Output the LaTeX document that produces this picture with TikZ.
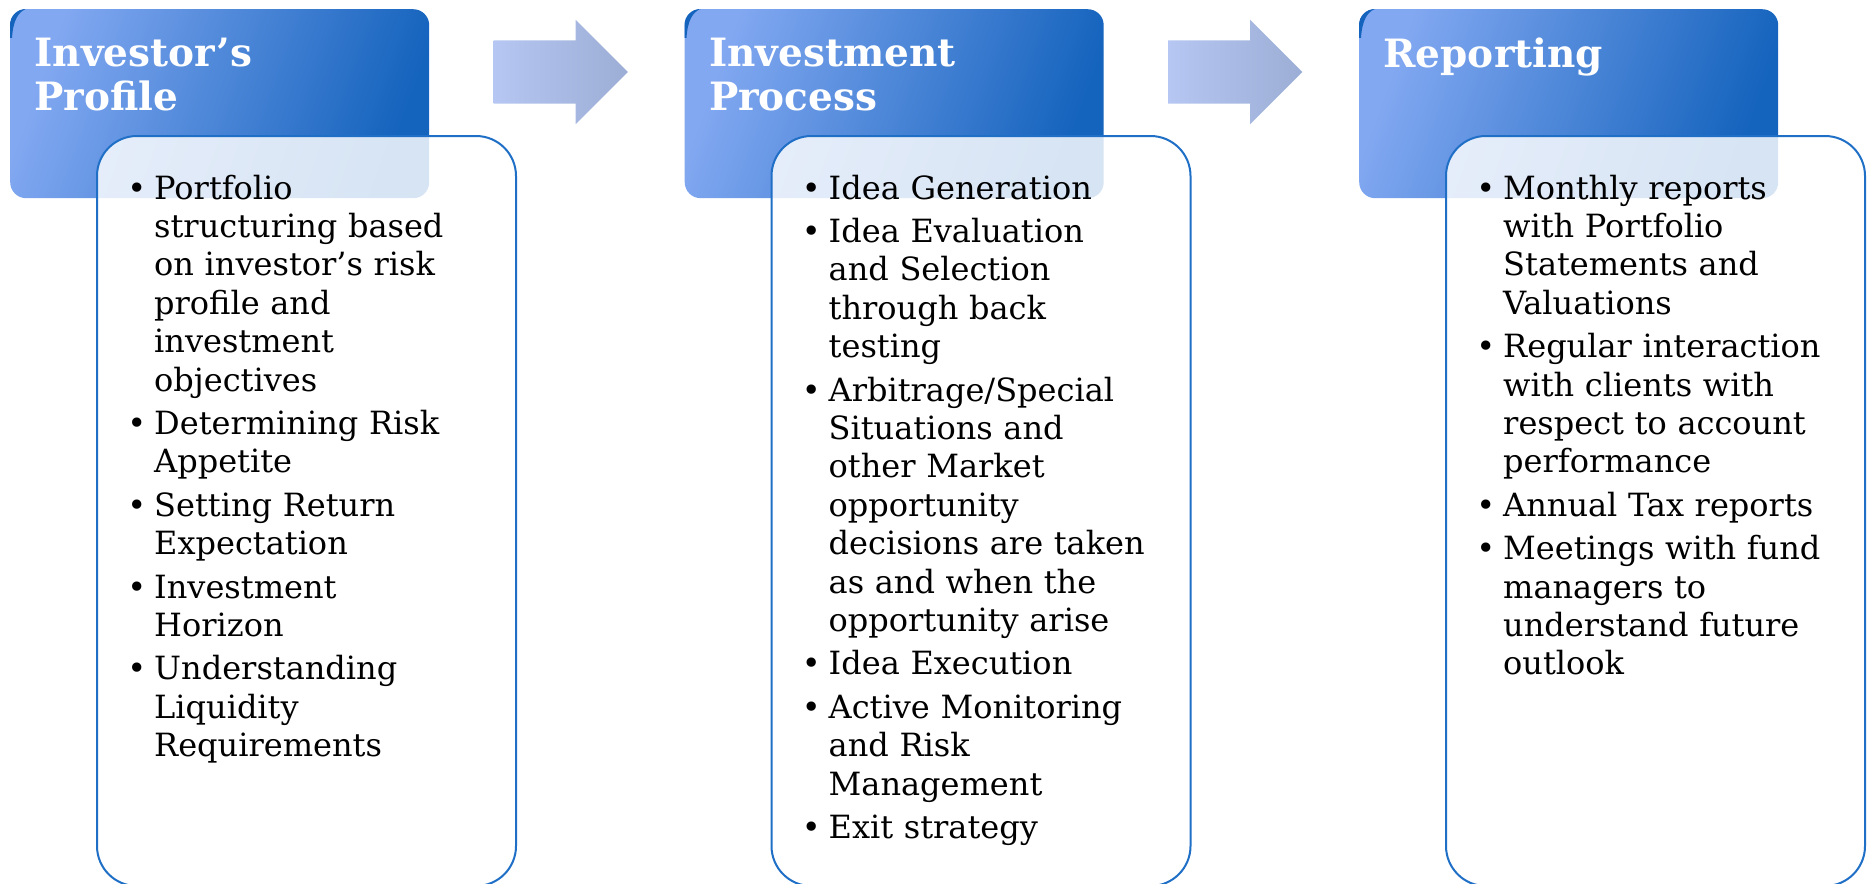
\documentclass[tikz,border=0pt]{standalone}
\usepackage{fontspec}
\setmainfont{DejaVu Serif}
\usepackage{enumitem}
\usetikzlibrary{positioning,shapes.arrows}

\definecolor{hdrlight}{HTML}{82A8F1}
\definecolor{hdrdark}{HTML}{1463BD}
\definecolor{boxline}{HTML}{1F6FC6}
\definecolor{flowlight}{HTML}{B5C7F2}
\definecolor{flowdark}{HTML}{9CAED5}

\newcommand{\titlefont}{\fontsize{39pt}{44pt}\selectfont\bfseries}
\newcommand{\itemfont}{\fontsize{32pt}{38.4pt}\selectfont}

% bullet list used inside the panels
\newlist{points}{itemize}{1}
\setlist[points]{label=\strut\textbullet, leftmargin=38pt, labelsep=8pt,
  itemsep=5pt, parsep=0pt, topsep=0pt, partopsep=0pt}

\begin{document}
\begin{tikzpicture}[
    x=1pt, y=-1pt,
    header/.style={anchor=north west, rounded corners=16pt, minimum width=419pt, minimum height=189pt,
      inner sep=0pt, top color=hdrlight, bottom color=hdrdark, shading angle=70},
    panel/.style={draw=boxline, line width=2pt, fill=white, fill opacity=0.83, rounded corners=40pt,
      minimum width=419pt, minimum height=750pt, inner sep=0pt},
    title/.style={inner sep=0pt, align=left, text=white, font=\titlefont},
    itemtext/.style={inner sep=0pt, text width=400pt, align=left, font=\itemfont},
    flow/.style={single arrow, single arrow head extend=20.7pt, single arrow tip angle=90,
      minimum height=134.4pt, inner sep=31.3pt, anchor=tail, left color=flowlight, right color=flowdark}
  ]
    \useasboundingbox (0,0) rectangle (1867,883);
    \clip (0,0) rectangle (1867,883);

    % headers
    \node[header] (hdrI) at (10,9) {};
    \node[header] (hdrII) at (684.5,9) {};
    \node[header] (hdrIII) at (1359,9) {};

    % dark rim on the top left corner of each header
    \foreach \h in {hdrI,hdrII,hdrIII}{
      \begin{scope}[shift={(\h.north west)}]
        \fill[hdrdark] (0,29) -- (0,16) .. controls (0,7) and (7,0) .. (16,0)
          .. controls (8,3) and (3,12) .. (2,29) -- cycle;
      \end{scope}
    }

    \node[title, below right=28.6pt and 24.3pt of hdrI.north west] (ttlI) {Investor’s\\Profile};
    \node[title, below right=28.6pt and 24.3pt of hdrII.north west] (ttlII) {Investment\\Process};
    \node[title, below right=28.6pt and 24.3pt of hdrIII.north west] (ttlIII) {Reporting};

    % arrows between the steps
    \node[flow] (flowI) at (493.3,72) {};
    \node[flow] (flowII) at (1167.8,72) {};

    % panels
    \node[panel, below right=126pt and 86pt of hdrI.north west] (bodyI) {};
    \node[panel, below right=126pt and 86pt of hdrII.north west] (bodyII) {};
    \node[panel, below right=126pt and 86pt of hdrIII.north west] (bodyIII) {};

    \node[itemtext, below right=25.5pt and 20pt of bodyI.north west] (listI) {%
      \begin{points}
        \item Portfolio\\structuring based\\on investor’s risk\\profile and\\investment\\objectives
        \item Determining Risk\\Appetite
        \item Setting Return\\Expectation
        \item Investment\\Horizon
        \item Understanding\\Liquidity\\Requirements
      \end{points}};
    \node[itemtext, below right=25.5pt and 20pt of bodyII.north west] (listII) {%
      \begin{points}
        \item Idea Generation
        \item Idea Evaluation\\and Selection\\through back\\testing
        \item Arbitrage/Special\\Situations and\\other Market\\opportunity\\decisions are taken\\as and when the\\opportunity arise
        \item Idea Execution
        \item Active Monitoring\\and Risk\\Management
        \item Exit strategy
      \end{points}};
    \node[itemtext, below right=25.5pt and 20pt of bodyIII.north west] (listIII) {%
      \begin{points}
        \item Monthly reports\\with Portfolio\\Statements and\\Valuations
        \item Regular interaction\\with clients with\\respect to account\\performance
        \item Annual Tax reports
        \item Meetings with fund\\managers to\\understand future\\outlook
      \end{points}};
  \end{tikzpicture}
\end{document}
